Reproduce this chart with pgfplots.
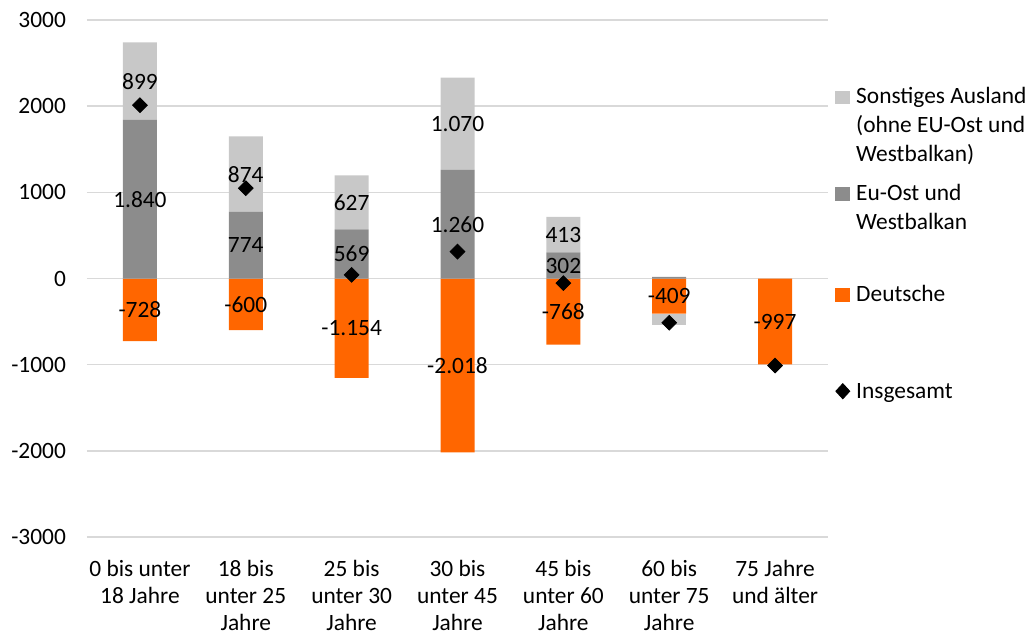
\documentclass[border=0pt]{standalone}
\usepackage{fontspec}
\setmainfont{Carlito}
\usepackage{pgfplots}
\pgfplotsset{compat=1.18}

\definecolor{deutsch}{RGB}{255,102,0}
\definecolor{euost}{RGB}{140,140,140}
\definecolor{sonst}{RGB}{200,200,200}
\definecolor{gridc}{RGB}{217,217,217}

\pgfplotsset{
  frame/.style={
    scale only axis,
    at={(0pt,0pt)}, anchor=south west,
    width=370.5pt, height=258.5pt,
    xmin=-0.5, xmax=6.5,
    ymin=-3000, ymax=3000,
    clip=false,
  },
  stackaxis/.style={frame, ybar stacked, bar width=17pt, bar shift=0pt},
  segment/.style={draw=none, fill=#1, forget plot},
  % one legend entry per axis, placed to the right of the plot area
  entry/.style={legend style={
    at={(rel axis cs:1,1)}, anchor=north west,
    xshift=3.5pt, yshift=#1,
    draw=none, fill=none, inner sep=0pt,
    font=\fontsize{11.7}{14.5}\selectfont,
    cells={anchor=base west, inner sep=0pt},
    column sep=1pt}},
  sqlegend/.style={legend image code/.code={\fill[#1] (0pt,0pt) rectangle (7pt,6.3pt);}},
  diamondlegend/.style={legend image code/.code={\fill[black] (3.5pt,-0.2pt) -- (7pt,3.6pt) -- (3.5pt,7.4pt) -- (0pt,3.6pt) -- cycle;}},
}

\newcommand{\lentry}[1]{\parbox[t]{90pt}{#1}}

\begin{document}
\begin{tikzpicture}
\path[use as bounding box] (-43.5pt,-48pt) rectangle (469.5pt,268.5pt);
% negative stack: Deutsche, then negative balances of Sonstiges Ausland
\begin{axis}[
  stackaxis, entry=-130.25pt,
  ytick={-3000,-2000,...,3000},
  xtick={0,...,6},
  xticklabels={
    {0 bis unter\\18 Jahre},
    {18 bis\\unter 25\\Jahre},
    {25 bis\\unter 30\\Jahre},
    {30 bis\\unter 45\\Jahre},
    {45 bis\\unter 60\\Jahre},
    {60 bis\\unter 75\\Jahre},
    {75 Jahre\\und älter}},
  axis line style={draw=none},
  major tick length=0pt,
  ymajorgrids,
  major grid style={gridc, line width=0.8pt},
  /pgf/number format/assume math mode=true,
  /pgf/number format/1000 sep={},
  tick label style={font=\fontsize{11.7}{13.5}\selectfont, text=black},
  yticklabel style={xshift=-7pt},
  xticklabel style={align=center, yshift=-8pt},
]
\addlegendimage{sqlegend=deutsch}
\addlegendentry{\lentry{Deutsche}}
\addplot[segment=deutsch] coordinates {
  (0,-728) (1,-600) (2,-1154) (3,-2018) (4,-768) (5,-409) (6,-997)};
\addplot[segment=sonst] coordinates {
  (0,0) (1,0) (2,0) (3,0) (4,0) (5,-125) (6,0)};
\end{axis}

% positive stack: EU-Ost und Westbalkan, then Sonstiges Ausland
\begin{axis}[stackaxis, hide axis, entry=-31.5pt]
\addlegendimage{sqlegend=sonst}
\addlegendentry{\lentry{Sonstiges Ausland\\(ohne EU-Ost und\\Westbalkan)}}
\addplot[segment=euost] coordinates {
  (0,1840) (1,774) (2,569) (3,1260) (4,302) (5,20) (6,0)};
\addplot[segment=sonst] coordinates {
  (0,899) (1,874) (2,627) (3,1070) (4,413) (5,0) (6,0)};
\end{axis}

% legend entry for EU-Ost und Westbalkan
\begin{axis}[frame, hide axis, entry=-79.75pt]
\addlegendimage{sqlegend=euost}
\addlegendentry{\lentry{Eu-Ost und\\Westbalkan}}
\end{axis}

% Insgesamt and value labels
\begin{axis}[frame, hide axis, entry=-179.5pt]
\addlegendimage{diamondlegend}
\addlegendentry{\lentry{Insgesamt}}

\addplot[only marks, mark=square*, mark size=2.6pt,
  mark options={rotate=45, fill=black, draw=black}, forget plot]
  coordinates {(0,2011) (1,1048) (2,42) (3,312) (4,-53) (5,-514) (6,-1010)};

% value labels at the middle of each segment
\addplot[draw=none, mark=none, forget plot,
  nodes near coords, point meta=explicit symbolic,
  every node near coord/.append style={anchor=center, inner sep=0pt,
    font=\fontsize{11.7}{13.5}\selectfont, text=black}]
  coordinates {
  (0,-364)[-728] (0,920)[1.840] (0,2289.5)[899]
  (1,-300)[-600] (1,387)[774] (1,1211)[874]
  (2,-577)[-1.154] (2,284.5)[569] (2,882.5)[627]
  (3,-1009)[-2.018] (3,630)[1.260] (3,1795)[1.070]
  (4,-384)[-768] (4,151)[302] (4,508.5)[413]
  (5,-204.5)[-409]
  (6,-498.5)[-997]};
\end{axis}
\end{tikzpicture}
\end{document}
